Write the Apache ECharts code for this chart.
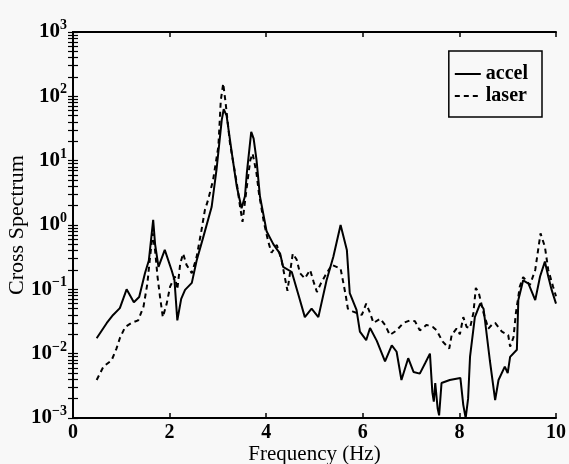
<!DOCTYPE html>
<html>
<head>
<meta charset="utf-8">
<script src="https://cdn.jsdelivr.net/npm/echarts@6/dist/echarts.min.js"></script>
<style>
    html, body { margin: 0; padding: 0; background: #f8f8f8; }
    #chart { width: 569px; height: 464px; }
</style>
</head>
<body>
<div id="chart"></div>
<script>
// accel (solid) - frequency in Hz and cross spectrum value
var accelFreq = [0.49, 0.70, 0.83, 0.97, 1.11, 1.26, 1.37, 1.49, 1.57, 1.66, 1.70, 1.77, 1.90, 2.04, 2.10, 2.16, 2.24, 2.32,
    2.46, 2.56, 2.70, 2.87, 2.97, 3.08, 3.12, 3.18, 3.29, 3.39, 3.49, 3.56, 3.60, 3.69, 3.74, 3.80, 3.87, 4.01,
    4.15, 4.29, 4.35, 4.53, 4.67, 4.80, 4.94, 5.08, 5.25, 5.39, 5.54, 5.67, 5.73, 5.87, 5.94, 6.07, 6.15, 6.29,
    6.46, 6.60, 6.70, 6.80, 6.94, 7.05, 7.18, 7.29, 7.39, 7.44, 7.47, 7.50, 7.55, 7.58, 7.63, 7.80, 8.02, 8.08,
    8.13, 8.18, 8.22, 8.32, 8.43, 8.50, 8.63, 8.74, 8.81, 8.94, 9.00, 9.05, 9.19, 9.22, 9.32, 9.43, 9.57, 9.67,
    9.77, 9.84, 9.91, 10.0];
var accelVals = [0.0174, 0.030, 0.040, 0.051, 0.100, 0.063, 0.076, 0.178, 0.28, 1.20, 0.50, 0.224, 0.41, 0.20, 0.141, 0.033, 0.071, 0.098,
    0.126, 0.28, 0.66, 1.9, 7.1, 43, 63, 50, 12.9, 4.0, 1.82, 2.8, 6.5, 28, 22, 10.2, 2.8, 0.79,
    0.50, 0.355, 0.224, 0.186, 0.081, 0.037, 0.050, 0.037, 0.138, 0.32, 1.0, 0.41, 0.087, 0.048, 0.022, 0.0162, 0.025, 0.0158,
    0.0076, 0.0135, 0.0107, 0.0039, 0.0085, 0.0052, 0.0049, 0.0071, 0.0100, 0.0025, 0.0018, 0.0035, 0.0014, 0.0011, 0.0035, 0.0039, 0.0042, 0.0016,
    0.0010, 0.0020, 0.0089, 0.037, 0.060, 0.050, 0.0079, 0.0019, 0.0039, 0.0063, 0.0050, 0.0089, 0.0115, 0.068, 0.138, 0.123, 0.068, 0.158,
    0.27, 0.158, 0.098, 0.060];

// laser (dashed)
var laserFreq = [0.49, 0.63, 0.80, 0.90, 0.97, 1.08, 1.21, 1.35, 1.46, 1.54, 1.59, 1.65, 1.70, 1.75, 1.80, 1.86, 1.94, 2.01,
    2.11, 2.16, 2.22, 2.28, 2.35, 2.46, 2.56, 2.66, 2.73, 2.80, 2.90, 3.01, 3.06, 3.11, 3.16, 3.25, 3.39, 3.46,
    3.51, 3.60, 3.67, 3.72, 3.80, 3.85, 3.95, 4.04, 4.11, 4.22, 4.32, 4.39, 4.44, 4.55, 4.63, 4.70, 4.80, 4.91,
    4.98, 5.05, 5.13, 5.25, 5.36, 5.54, 5.60, 5.65, 5.69, 5.80, 5.98, 6.07, 6.15, 6.22, 6.36, 6.46, 6.56, 6.70,
    6.84, 6.98, 7.08, 7.18, 7.32, 7.45, 7.53, 7.65, 7.79, 7.84, 7.94, 8.01, 8.08, 8.15, 8.22, 8.29, 8.34, 8.40,
    8.50, 8.60, 8.67, 8.74, 8.88, 9.01, 9.05, 9.12, 9.17, 9.25, 9.32, 9.46, 9.57, 9.63, 9.68, 9.77, 9.84, 9.94, 10.0];
var laserVals = [0.0039, 0.0063, 0.0079, 0.012, 0.0174, 0.026, 0.030, 0.033, 0.054, 0.123, 0.29, 0.74, 0.40, 0.158, 0.078, 0.037, 0.060, 0.110,
    0.158, 0.100, 0.25, 0.36, 0.24, 0.178, 0.32, 0.83, 1.7, 2.5, 5.0, 16.6, 87, 158, 79, 18.6, 4.5, 1.9,
    1.12, 4.0, 10.2, 12.9, 6.3, 3.1, 1.12, 0.56, 0.37, 0.49, 0.28, 0.148, 0.095, 0.36, 0.29, 0.178, 0.148, 0.20,
    0.132, 0.091, 0.123, 0.178, 0.24, 0.21, 0.123, 0.078, 0.050, 0.045, 0.040, 0.060, 0.043, 0.030, 0.035, 0.028, 0.0195, 0.023,
    0.030, 0.033, 0.032, 0.023, 0.028, 0.026, 0.023, 0.0155, 0.012, 0.0195, 0.0245, 0.020, 0.037, 0.026, 0.025, 0.043, 0.105, 0.089,
    0.043, 0.0245, 0.028, 0.030, 0.022, 0.0195, 0.0129, 0.018, 0.043, 0.110, 0.155, 0.117, 0.20, 0.41, 0.74, 0.46, 0.20, 0.110, 0.078];

var xTicks = [0, 2, 4, 6, 8, 10];
var yDecades = [0.001, 0.01, 0.1, 1, 10, 100, 1000];

var SERIF = '"Liberation Serif", "DejaVu Serif", serif';

// log axis ticks: every decade plus 2..9 inside it
var yTicks = yDecades.slice();
for (var d = 0; d < yDecades.length - 1; d++) {
    for (var m = 2; m <= 9; m++) {
        yTicks.push(m * yDecades[d]);
    }
}

function pairs(xs, ys) {
    var out = [];
    for (var i = 0; i < xs.length; i++) {
        out.push([xs[i], ys[i]]);
    }
    return out;
}

function powLabel(v) {
    var e = Math.round(Math.log(v) / Math.LN10);
    var txt = e < 0 ? '\u2212' + (-e) : '' + e;
    return '{b|10}{s|' + txt + '}';
}

var boxLine = { lineStyle: { color: '#000', width: 2 } };
var yTickStyle = { inside: true, length: 5, customValues: yTicks, lineStyle: { color: '#000', width: 1.2 } };
var xTickStyle = { inside: true, length: 5, lineStyle: { color: '#000', width: 1.5 } };

var chart = echarts.init(document.getElementById('chart'));
var option = {
    backgroundColor: '#f8f8f8',
    animation: false,
    grid: { left: 73, right: 13, top: 32, bottom: 46, outerBoundsMode: 'none', containLabel: false },
    legend: {
        orient: 'vertical',
        right: 27,
        top: 51,
        data: ['accel', 'laser'],
        backgroundColor: '#f8f8f8',
        borderColor: '#000',
        borderWidth: 1.5,
        padding: [13, 14, 11, 5],
        itemGap: 2,
        itemWidth: 26,
        itemHeight: 14,
        itemStyle: { opacity: 0 },
        textStyle: { fontFamily: SERIF, fontSize: 20, fontWeight: 'bold', color: '#000' }
    },
    xAxis: [
        {
            type: 'value',
            min: 0,
            max: 10,
            interval: 2,
            name: 'Frequency (Hz)',
            nameLocation: 'middle',
            nameGap: 26,
            nameMoveOverlap: false,
            nameTextStyle: { fontFamily: SERIF, fontSize: 21, color: '#000' },
            axisLine: boxLine,
            axisTick: xTickStyle,
            splitLine: { show: false },
            axisLabel: {
                margin: 5,
                fontFamily: SERIF, fontSize: 20, fontWeight: 'bold', color: '#000',
                formatter: function (v) { return xTicks.indexOf(v) >= 0 ? '' + v : ''; }
            }
        },
        {
            type: 'value',
            position: 'top',
            min: 0,
            max: 10,
            interval: 2,
            axisLine: boxLine,
            axisTick: xTickStyle,
            axisLabel: { show: false },
            splitLine: { show: false }
        }
    ],
    yAxis: [
        {
            type: 'log',
            logBase: 10,
            min: 0.001,
            max: 1000,
            name: 'Cross Spectrum',
            nameLocation: 'middle',
            nameGap: 45,
            nameMoveOverlap: false,
            nameTextStyle: { fontFamily: SERIF, fontSize: 22, color: '#000' },
            axisLine: boxLine,
            axisTick: yTickStyle,
            splitLine: { show: false },
            axisLabel: {
                margin: 6,
                color: '#000',
                customValues: yDecades,
                formatter: powLabel,
                rich: {
                    b: { fontFamily: SERIF, fontSize: 21, fontWeight: 'bold', color: '#000' },
                    s: { fontFamily: SERIF, fontSize: 14, fontWeight: 'bold', color: '#000', padding: [0, 0, 13, 0] }
                }
            }
        },
        {
            type: 'log',
            logBase: 10,
            position: 'right',
            min: 0.001,
            max: 1000,
            axisLine: boxLine,
            axisTick: yTickStyle,
            axisLabel: { show: false },
            splitLine: { show: false }
        }
    ],
    series: [
        {
            name: 'accel',
            type: 'line',
            data: pairs(accelFreq, accelVals),
            showSymbol: false,
            symbol: 'none',
            color: '#000',
            lineStyle: { color: '#000', width: 2 }
        },
        {
            name: 'laser',
            type: 'line',
            data: pairs(laserFreq, laserVals),
            showSymbol: false,
            symbol: 'none',
            color: '#000',
            lineStyle: { color: '#000', width: 2, type: [5, 4] }
        }
    ]
};
chart.setOption(option);
</script>
</body>
</html>
